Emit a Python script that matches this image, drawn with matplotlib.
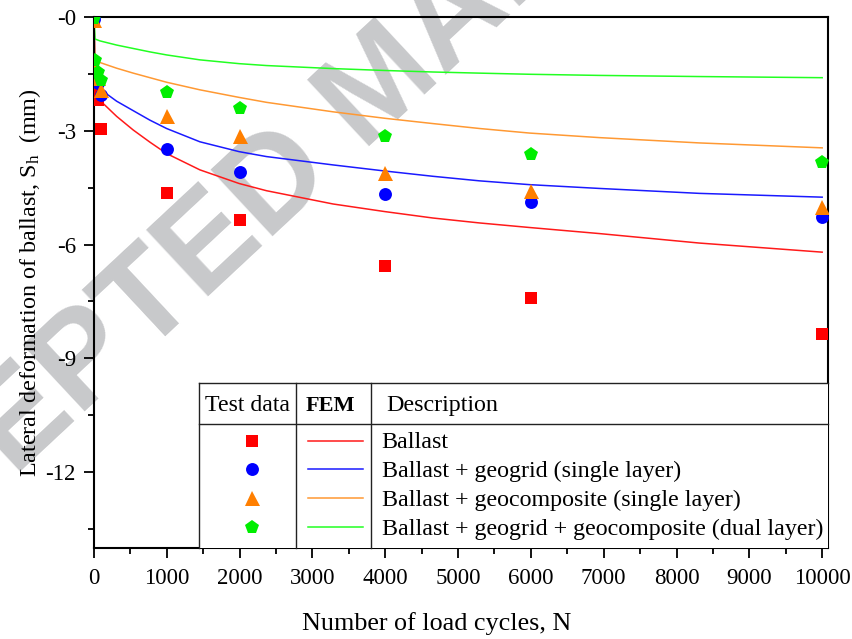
import matplotlib
matplotlib.use('Agg')
import matplotlib.pyplot as plt
from matplotlib.lines import Line2D
from matplotlib.patches import Rectangle
from matplotlib.ticker import FixedLocator, MultipleLocator, FixedFormatter

plt.rcParams['font.family'] = ['Liberation Serif', 'DejaVu Serif']
plt.rcParams['mathtext.fontset'] = 'custom'
plt.rcParams['mathtext.rm'] = 'Liberation Serif'
plt.rcParams['mathtext.it'] = 'Liberation Serif:italic'

# ---------------- data ----------------
test_N = [1, 10, 50, 100, 1000, 2000, 4000, 6000, 10000]
test_ballast = [-0.05, -1.95, -2.19, -2.94, -4.65, -5.36, -6.57, -7.40, -8.37]
test_geogrid = [-0.05, -1.45, -1.75, -2.06, -3.47, -4.08, -4.67, -4.87, -5.27]
test_geocomp = [-0.08, -1.35, -1.60, -1.92, -2.61, -3.14, -4.12, -4.58, -5.02]
test_dual = [-0.03, -1.13, -1.45, -1.66, -1.97, -2.39, -3.15, -3.61, -3.82]

fem_N = [0, 14, 82, 311, 539, 768, 997, 1454, 1993, 2369, 3283, 3992,
         4655, 5295, 5981, 6940, 8313, 10000]
fem_ballast = [0, -1.7, -2.2, -2.62, -2.98, -3.3, -3.6, -4.03, -4.39, -4.58,
               -4.93, -5.13, -5.30, -5.43, -5.55, -5.71, -5.96, -6.2]
fem_geogrid = [0, -1.5, -1.9, -2.22, -2.47, -2.72, -2.94, -3.29, -3.55, -3.68,
               -3.90, -4.06, -4.20, -4.32, -4.42, -4.52, -4.65, -4.75]
fem_geocomp = [0, -1.1, -1.2, -1.35, -1.48, -1.60, -1.72, -1.92, -2.12, -2.25,
               -2.50, -2.67, -2.81, -2.94, -3.06, -3.18, -3.32, -3.45]
fem_dual = [0, -0.58, -0.63, -0.74, -0.83, -0.92, -1.0, -1.13, -1.23, -1.28,
            -1.36, -1.41, -1.45, -1.48, -1.51, -1.54, -1.57, -1.6]

descriptions = ['Ballast',
                'Ballast + geogrid (single layer)',
                'Ballast + geocomposite (single layer)',
                'Ballast + geogrid + geocomposite (dual layer)']

x_ticks = [0, 1000, 2000, 3000, 4000, 5000, 6000, 7000, 8000, 9000, 10000]
y_ticks = [0, -3, -6, -9, -12]
y_tick_labels = ['-0', '-3', '-6', '-9', '-12']

# ---------------- styles ----------------
colors = ['#ff0000', '#0000ff', '#ff7f00', '#00ee00']
line_colors = ['#ff1a1a', '#1a1aff', '#ff9933', '#22ff22']
markers = ['s', 'o', '^', 'p']
msizes = [8.3, 9.3, 10.8, 10.8]

W, H = 853, 639
fig = plt.figure(figsize=(W / 100, H / 100), dpi=100)


def fx(px):
    return px / W


def fy(py):
    return 1 - py / H


# watermark
fig.text(fx(-195), fy(672), 'ACCEPTED MANUSCRIPT', rotation=43,
         rotation_mode='anchor', ha='left', va='baseline', fontsize=95,
         fontweight='bold', family='Liberation Sans', color='#c8c9cb', zorder=-1)

ax = fig.add_axes([fx(94), fy(548), fx(828) - fx(94), fy(17) - fy(548)])
ax.set_facecolor('none')

fem_V = [fem_ballast, fem_geogrid, fem_geocomp, fem_dual]
tests = [test_ballast, test_geogrid, test_geocomp, test_dual]

for v, c in zip(fem_V, line_colors):
    ax.plot(fem_N, v, color=c, lw=1.1, zorder=2)
for v, c, m, s in zip(tests, colors, markers, msizes):
    ax.plot(test_N, v, linestyle='none', marker=m, ms=s, color=c,
            markeredgewidth=0, zorder=3)

ax.set_xlim(0, 10080)
ax.set_ylim(-14, 0)
ax.xaxis.set_major_locator(FixedLocator(x_ticks))
ax.xaxis.set_minor_locator(MultipleLocator(500))
ax.yaxis.set_major_locator(FixedLocator(y_ticks))
ax.yaxis.set_major_formatter(FixedFormatter(y_tick_labels))
ax.yaxis.set_minor_locator(MultipleLocator(1.5))

for sp in ax.spines.values():
    sp.set_linewidth(1.5)
ax.tick_params(which='major', direction='out', length=7.5, width=1.3,
               labelsize=16.5)
ax.tick_params(axis='x', which='major', pad=7)
ax.tick_params(axis='y', which='major', pad=5.5)
ax.tick_params(which='minor', direction='out', length=4.5, width=1.3)

ax.set_xlabel('Number of load cycles, N', fontsize=18.8, va='baseline')
ax.xaxis.set_label_coords((437 - 94) / 734, (548 - 630) / 531)
ax.set_ylabel('Lateral deformation of ballast, S$_\\mathregular{h}$  (mm)',
              fontsize=17.4, va='baseline')
ax.yaxis.set_label_coords((36 - 94) / 734, (548 - 283) / 531)

# ---------------- legend table ----------------
tcol = '#222222'
fig.add_artist(Rectangle((fx(199), fy(548)), fx(828) - fx(199), fy(383) - fy(548),
                         transform=fig.transFigure, facecolor='white',
                         edgecolor='none', zorder=4))


def hline(x0, x1, y, **kw):
    fig.add_artist(Line2D([fx(x0), fx(x1)], [fy(y), fy(y)],
                          transform=fig.transFigure, zorder=5, **kw))


def vline(x, y0, y1, **kw):
    fig.add_artist(Line2D([fx(x), fx(x)], [fy(y0), fy(y1)],
                          transform=fig.transFigure, zorder=5, **kw))


hline(199, 828, 383.3, color=tcol, lw=1.0)
hline(199, 828, 424, color=tcol, lw=1.0)
for xv in (199.3, 295.7, 370.7):
    vline(xv, 383.3, 548, color=tcol, lw=1.0)

fig.text(fx(205), fy(411), 'Test data', fontsize=17.2, ha='left', va='baseline', zorder=6)
fig.text(fx(306), fy(411), 'FEM', fontsize=16, fontweight='bold', ha='left',
         va='baseline', zorder=6)
fig.text(fx(386), fy(411), 'Description', fontsize=17.3, ha='left', va='baseline', zorder=6)

row_y = [440.5, 469.3, 498.1, 526.9]
for yc, c, lc, m, s, d in zip(row_y, colors, line_colors, markers, msizes, descriptions):
    fig.add_artist(Line2D([fx(252)], [fy(yc)], transform=fig.transFigure,
                          marker=m, ms=s, color=c, markeredgewidth=0,
                          linestyle='none', zorder=6))
    hline(308, 362.7, yc, color=lc, lw=1.1)
    fig.text(fx(381.7), fy(yc + 7.8), d, fontsize=17.3, ha='left', va='baseline', zorder=6)

fig.savefig('out.png', dpi=100)
